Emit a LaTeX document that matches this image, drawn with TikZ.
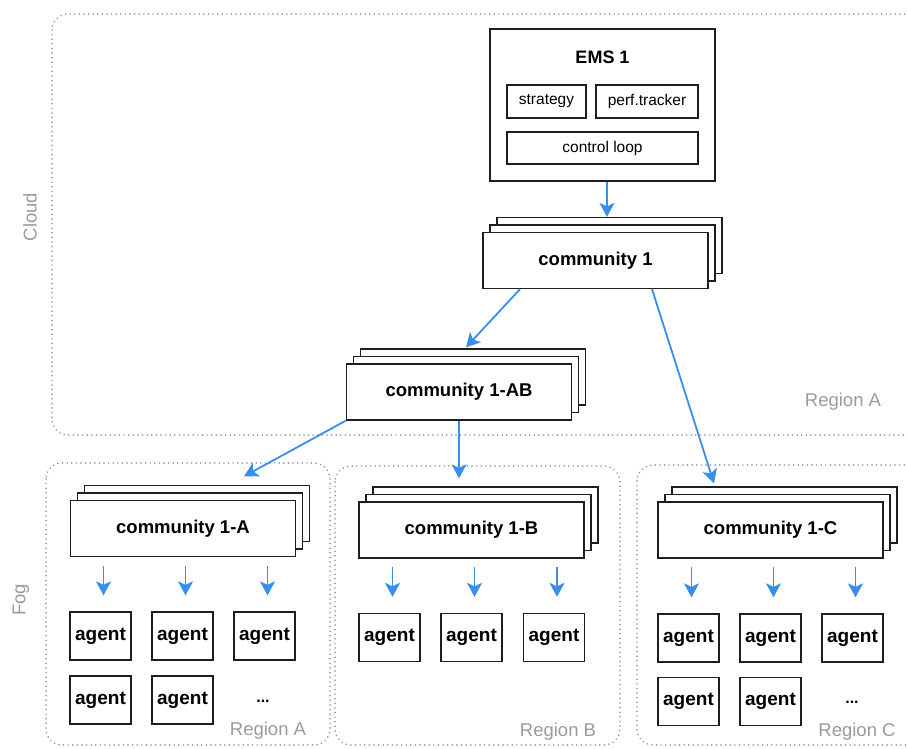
\documentclass[tikz,border=0pt]{standalone}
\usepackage{fontspec}
\setmainfont{Liberation Sans}
\usetikzlibrary{arrows.meta,shadows,calc}
\definecolor{arrblue}{RGB}{58,142,235}
\definecolor{regiongray}{RGB}{155,155,155}
\definecolor{dotgray}{RGB}{140,140,140}
\definecolor{boxline}{RGB}{30,30,30}
\begin{document}
\begin{tikzpicture}[x=1pt,y=-1pt,
  box/.style={draw=boxline,line width=1.3pt,fill=white,inner sep=0pt,align=center},
  stack/.style={box,minimum width=225pt,minimum height=56pt,font=\fontsize{18.5}{22}\selectfont\bfseries,
     copy shadow={shadow xshift=14pt,shadow yshift=15pt,draw=boxline,line width=1.3pt,fill=white},
     copy shadow={shadow xshift=7pt,shadow yshift=7.5pt,draw=boxline,line width=1.3pt,fill=white}},
  agentbox/.style={box,minimum width=61pt,minimum height=48pt,font=\fontsize{19}{22}\selectfont\bfseries},
  subbox/.style={box,minimum height=33pt,font=\fontsize{15.5}{18}\selectfont},
  region/.style={draw=dotgray,line width=1.7pt,dash pattern=on 0.01pt off 4.6pt,line cap=round,rounded corners=16pt},
  reglabel/.style={text=regiongray,font=\fontsize{18.5}{22}\selectfont,inner sep=0pt},
  arr/.style={draw=arrblue,line width=1.8pt,-{Stealth[length=14pt,width=15pt,inset=3.5pt]}},
]
\useasboundingbox (0,0) rectangle (907,749);
\clip (0,0) rectangle (907,749);
\fill[white] (0,0) rectangle (907,749);

% regions
\draw[region] (52,14) rectangle (940,435);
\draw[region] (46,463) rectangle (330,745);
\draw[region] (335,466) rectangle (620,745);
\draw[region] (637,465) rectangle (940,745);

\node[reglabel,rotate=90] (cloudlbl) at (30,217) {Cloud};
\node[reglabel,rotate=90] (foglbl) at (21,600) {Fog};
\node[reglabel] (rgA0) at (843,402) {Region A};
\node[reglabel] (rgA) at (268,731) {Region A};
\node[reglabel] (rgB) at (558,732) {Region B};
\node[reglabel] (rgC) at (857,732) {Region C};

% EMS
\node[box,minimum width=225pt,minimum height=152pt] (ems) at (602.5,105) {};
\node[font=\fontsize{18}{22}\selectfont\bfseries,inner sep=0pt] (emstitle) at (602.5,57) {EMS 1};
\node[subbox,minimum width=79pt] (strat) at (546.5,101.5) {strategy};
\node[subbox,minimum width=102pt] (perf) at (647,101.5) {perf.tracker};
\node[subbox,minimum width=191pt,minimum height=32pt] (ctrl) at (602.5,148) {control loop};

% communities
\node[stack] (c1) at (595.5,260.5) {community 1};
\node[stack] (c1ab) at (459,392) {community 1-AB};
\node[stack] (c1a) at (183,528.5) {community 1-A};
\node[stack] (c1b) at (471.5,530) {community 1-B};
\node[stack] (c1c) at (770.5,530) {community 1-C};

% agents
\node[agentbox] (aA1) at (100.5,636) {agent};
\node[agentbox] (aA2) at (182.5,636) {agent};
\node[agentbox] (aA3) at (264.5,636) {agent};
\node[agentbox] (aA4) at (100.5,700) {agent};
\node[agentbox] (aA5) at (182.5,700) {agent};
\node[font=\fontsize{16}{20}\selectfont\bfseries,inner sep=0pt] (aAdots) at (263,701) {...};

\node[agentbox] (aB1) at (389.5,637.5) {agent};
\node[agentbox] (aB2) at (471.5,637.5) {agent};
\node[agentbox] (aB3) at (554,637.5) {agent};

\node[agentbox] (aC1) at (688.5,638) {agent};
\node[agentbox] (aC2) at (770.5,638) {agent};
\node[agentbox] (aC3) at (852.5,638) {agent};
\node[agentbox] (aC4) at (688.5,701.5) {agent};
\node[agentbox] (aC5) at (770.5,701.5) {agent};
\node[font=\fontsize{16}{20}\selectfont\bfseries,inner sep=0pt] (aCdots) at (852,702) {...};

% main arrows
\draw[arr] ([xshift=4.5pt]ems.south) -- ([xshift=11.5pt,yshift=15pt]c1.north);
\draw[arr] ([xshift=-75.5pt]c1.south) -- ([xshift=7pt,yshift=16pt]c1ab.north);
\draw[arr] ([xshift=56.5pt]c1.south) -- ([xshift=-56.5pt,yshift=18pt]c1c.north);
\draw[arr] (c1ab.south west) -- ([xshift=61pt,yshift=23.5pt]c1a.north);
\draw[arr] (c1ab.south) -- ([xshift=-12.5pt,yshift=23pt]c1b.north);

% agent arrows
\foreach \c/\a in {c1a/aA1,c1a/aA2,c1a/aA3,c1b/aB1,c1b/aB2,c1b/aB3,c1c/aC1,c1c/aC2,c1c/aC3}{
  \draw[arr,shorten <=8.5pt,shorten >=16pt] ($(\a.north |- \c.south)+(3,0)$) -- ($(\a.north)+(3,0)$);
}
\end{tikzpicture}
\end{document}
